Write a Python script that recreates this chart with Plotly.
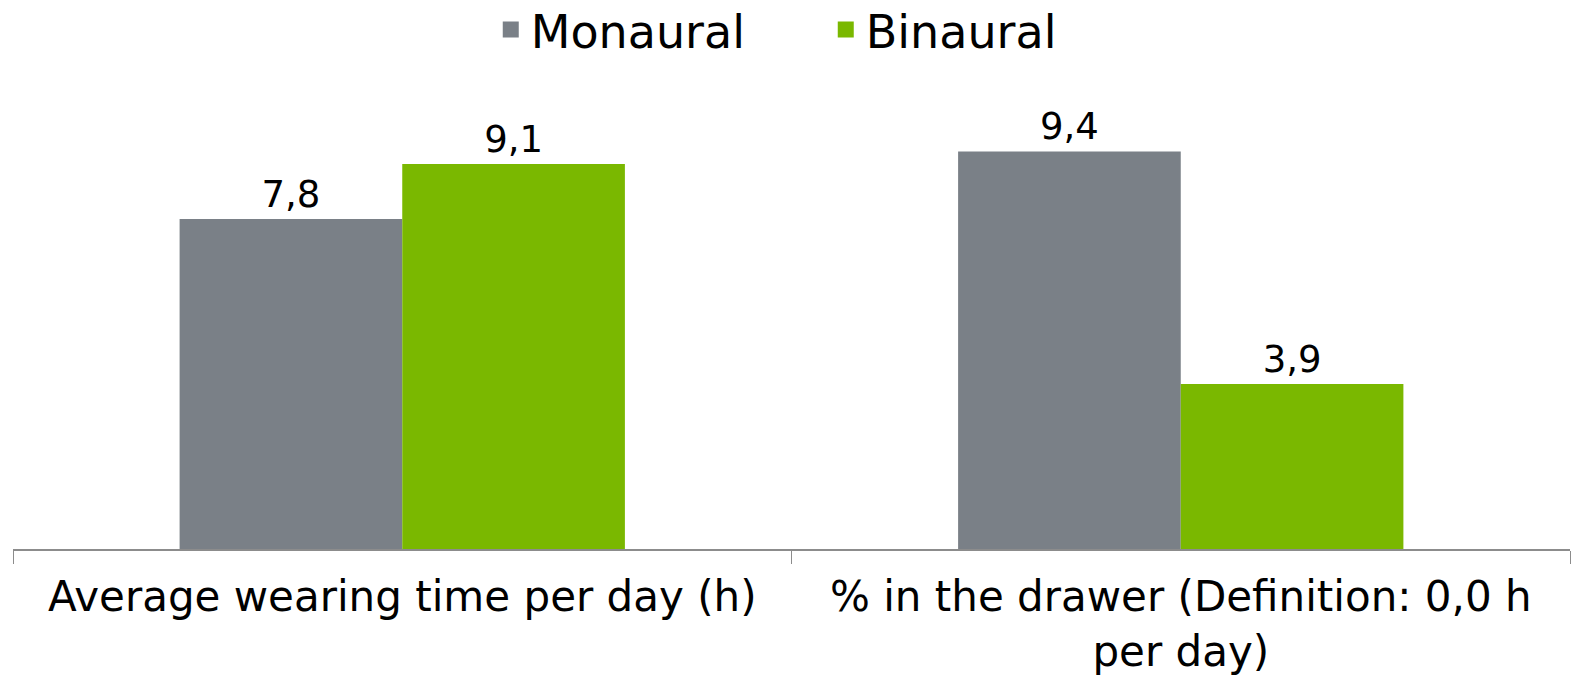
import plotly.graph_objects as go

categories = ["Average wearing time per day (h)", "% in the drawer (Definition: 0,0 h<br>per day)"]
series_names = ["Monaural", "Binaural"]
monaural = [7.8, 9.4]
binaural = [9.1, 3.9]
colors = ["#7a8087", "#7ab800"]

FONT = "Verdana, DejaVu Sans, sans-serif"

fig = go.Figure()
for name, vals, col in zip(series_names, [monaural, binaural], colors):
    fig.add_trace(go.Bar(
        x=categories, y=vals, name=name,
        marker=dict(color=col, line=dict(width=0)),
        text=vals, texttemplate="%{y:.1f}", textposition="outside",
        textfont=dict(size=37, color="#000000", family=FONT),
        cliponaxis=False, showlegend=False,
    ))
    fig.add_trace(go.Scatter(
        x=[None], y=[None], mode="markers", name=name,
        marker=dict(symbol="square", size=24, color=col),
        showlegend=True,
    ))

fig.update_layout(
    width=1572, height=682,
    margin=dict(l=13, r=2, t=126, b=133, autoexpand=False),
    paper_bgcolor="white", plot_bgcolor="white",
    separators=", ",
    barmode="group", bargap=0.428, bargroupgap=0,
    font=dict(family=FONT, color="#000000"),
    legend=dict(orientation="h", x=0.522, xanchor="center",
                y=1.314, yanchor="top",
                font=dict(size=46, family=FONT), itemsizing="trace",
                entrywidth=290, bgcolor="rgba(0,0,0,0)"),
    showlegend=True,
)
fig.update_xaxes(
    showline=True, linecolor="#8c8c8c", linewidth=2,
    ticks="outside", ticklen=13, tickcolor="#8c8c8c", tickwidth=1,
    tickson="boundaries", showgrid=False, automargin=False,
    ticklabelstandoff=10,
    tickfont=dict(size=42, family=FONT, color="#000000"),
)
fig.update_yaxes(visible=False, range=[0, 10])

fig.write_html(
    "out.html",
    config={"displayModeBar": False},
    post_script="document.body.style.margin='0';document.body.style.overflow='hidden';",
)
